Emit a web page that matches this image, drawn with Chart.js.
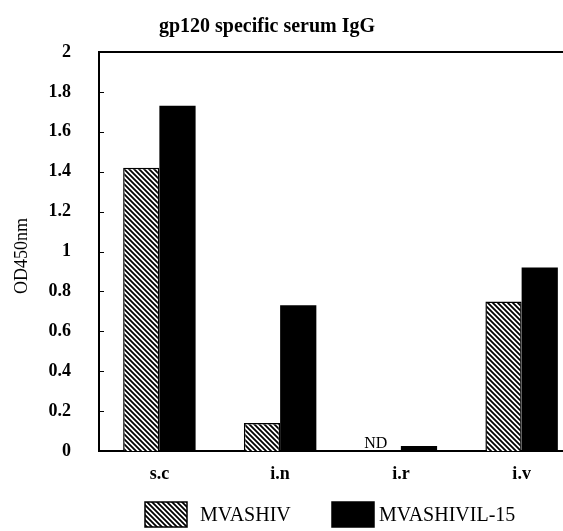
<!DOCTYPE html>
<html>
<head>
<meta charset="utf-8">
<script src="https://cdn.jsdelivr.net/npm/chart.js@4.4.0/dist/chart.umd.min.js"></script>
<style>
  html, body { margin: 0; padding: 0; background: #fff; overflow: hidden; }
  #wrap { width: 600px; height: 531px; position: relative; }
</style>
</head>
<body>
<div id="wrap"><canvas id="odChart"></canvas></div>
<script>
// --- chart data ---
const categories = ['s.c', 'i.n', 'i.r', 'i.v'];
const mvashiv = [1.42, 0.14, 0, 0.75];
const mvashivIl15 = [1.73, 0.73, 0.025, 0.92];
const barNotes = ['', '', 'ND', ''];          // text over the MVASHIV bar
const yTicks = [0, 0.2, 0.4, 0.6, 0.8, 1, 1.2, 1.4, 1.6, 1.8, 2];
const seriesNames = ['MVASHIV', 'MVASHIVIL-15'];
const chartTitle = 'gp120 specific serum IgG';
const yTitle = 'OD450nm';

const SERIF = '"Liberation Serif", "DejaVu Serif", serif';

// --- hatch pattern: thin black lines running top-left to bottom-right ---
function makeHatch() {
    const size = 5;
    const c = document.createElement('canvas');
    c.width = size;
    c.height = size;
    const g = c.getContext('2d');
    g.fillStyle = '#fff';
    g.fillRect(0, 0, size, size);
    g.strokeStyle = '#000';
    g.lineWidth = 1.8;
    g.beginPath();
    g.moveTo(-1, -1); g.lineTo(size + 1, size + 1);
    g.moveTo(-1, size - 1); g.lineTo(1, size + 1);
    g.moveTo(size - 1, -1); g.lineTo(size + 1, 1);
    g.stroke();
    return g.createPattern(c, 'repeat');
}
const hatch = makeHatch();

// --- everything the library does not draw itself ---
const extrasPlugin = {
    id: 'extras',
    afterDraw(chart) {
        const ctx = chart.ctx;
        const area = chart.chartArea;
        const y = chart.scales.y;
        ctx.save();

        // top frame line (the right edge is cropped in the original)
        ctx.strokeStyle = '#000';
        ctx.lineWidth = 2;
        ctx.beginPath();
        ctx.moveTo(area.left, area.top);
        ctx.lineTo(chart.width, area.top);
        ctx.stroke();

        // small inward tick marks on the y axis
        ctx.lineWidth = 1;
        yTicks.forEach(v => {
            const py = Math.round(y.getPixelForValue(v)) + 0.5;
            ctx.beginPath();
            ctx.moveTo(area.left, py);
            ctx.lineTo(area.left + 5, py);
            ctx.stroke();
        });

        // title
        ctx.fillStyle = '#000';
        ctx.font = 'bold 20px ' + SERIF;
        ctx.textAlign = 'center';
        ctx.textBaseline = 'middle';
        ctx.fillText(chartTitle, 267, 27);

        // y axis title
        ctx.save();
        ctx.translate(22, 256);
        ctx.rotate(-Math.PI / 2);
        ctx.font = '18px ' + SERIF;
        ctx.fillText(yTitle, 0, 0);
        ctx.restore();

        // notes above bars (ND)
        const meta = chart.getDatasetMeta(0);
        ctx.font = '16px ' + SERIF;
        ctx.textBaseline = 'bottom';
        barNotes.forEach((note, i) => {
            if (!note) return;
            const bar = meta.data[i];
            ctx.fillText(note, bar.x - 7, bar.y + 1);
        });

        // legend
        const legendY = 502, boxW = 42, boxH = 25;
        const items = [
            { x: 145, fill: hatch, textX: 200 },
            { x: 332, fill: '#000', textX: 379 }
        ];
        ctx.font = '20px ' + SERIF;
        ctx.textAlign = 'left';
        ctx.textBaseline = 'middle';
        items.forEach((it, i) => {
            ctx.fillStyle = it.fill;
            ctx.fillRect(it.x, legendY, boxW, boxH);
            ctx.strokeStyle = '#000';
            ctx.lineWidth = 1.5;
            ctx.strokeRect(it.x, legendY, boxW, boxH);
            ctx.fillStyle = '#000';
            ctx.fillText(seriesNames[i], it.textX, legendY + boxH / 2 + 1);
        });

        ctx.restore();
    }
};

new Chart(document.getElementById('odChart'), {
    type: 'bar',
    data: {
        labels: categories,
        datasets: [
            {
                label: seriesNames[0],
                data: mvashiv,
                backgroundColor: hatch,
                borderColor: '#000',
                borderWidth: 1.5,
                borderSkipped: 'bottom'
            },
            {
                label: seriesNames[1],
                data: mvashivIl15,
                backgroundColor: '#000',
                borderColor: '#000',
                borderWidth: 0
            }
        ]
    },
    options: {
        responsive: true,
        maintainAspectRatio: false,
        animation: false,
        events: [],
        layout: { padding: { left: 0, top: 52, right: 18, bottom: 0 } },
        datasets: { bar: { categoryPercentage: 0.6, barPercentage: 1.0 } },
        plugins: {
            legend: { display: false },
            title: { display: false },
            tooltip: { enabled: false }
        },
        scales: {
            x: {
                grid: { display: false, drawTicks: false },
                border: { display: true, color: '#000', width: 2 },
                ticks: {
                    color: '#000',
                    padding: 13,
                    font: { family: SERIF, size: 18, weight: 'bold' }
                },
                afterFit(scale) { scale.height = 80; }
            },
            y: {
                min: 0,
                max: 2,
                afterBuildTicks(scale) {
                    scale.ticks = yTicks.map(v => ({ value: v }));
                },
                grid: { display: false, drawTicks: false },
                border: { display: true, color: '#000', width: 2 },
                ticks: {
                    color: '#000',
                    padding: 28,
                    font: { family: SERIF, size: 18, weight: 'bold' },
                    callback: v => String(v)
                },
                afterFit(scale) { scale.width = 99; }
            }
        }
    },
    plugins: [extrasPlugin]
});
</script>
</body>
</html>
